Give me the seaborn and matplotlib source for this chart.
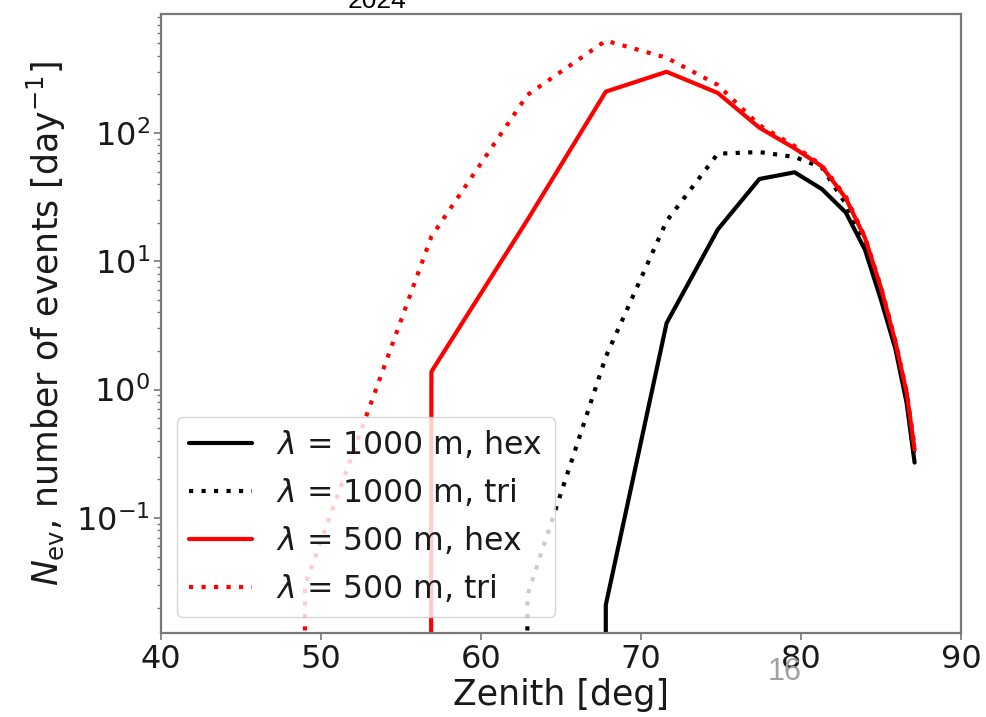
import numpy as np
import pandas as pd
import matplotlib
matplotlib.use("Agg")
import matplotlib.pyplot as plt
import seaborn as sns

# Zenith grid of the simulated bins [deg]
zenith = [37.8, 49.0, 56.9, 62.9, 67.8, 71.6, 74.8, 77.4, 79.6, 81.3, 82.8, 84.0, 85.0, 85.9, 86.6, 87.1]

# Expected number of events per day for each array layout
n_1000_hex = [0, 0, 0, 0, 0.021, 3.3, 17.7, 43.8, 49.4, 36.6, 24.0, 12.3, 5.0, 2.08, 0.79, 0.27]
n_1000_tri = [0, 0, 0, 0.025, 1.8, 20.6, 69.0, 71.0, 65.0, 54.0, 28.0, 13.0, 5.4, 2.2, 0.85, 0.29]
n_500_hex = [0, 0, 1.38, 21.0, 210.0, 300.0, 205.0, 110.0, 76.0, 55.0, 31.0, 15.2, 6.2, 2.35, 0.95, 0.34]
n_500_tri = [0, 0.030, 15.6, 198.0, 524.0, 386.0, 237.0, 115.0, 79.0, 56.0, 32.0, 15.5, 6.3, 2.4, 0.97, 0.36]

labels = [r"$\lambda$ = 1000 m, hex", r"$\lambda$ = 1000 m, tri",
          r"$\lambda$ = 500 m, hex", r"$\lambda$ = 500 m, tri"]
series = [n_1000_hex, n_1000_tri, n_500_hex, n_500_tri]
colors = ["black", "black", "red", "red"]
styles = ["-", ":", "-", ":"]

sns.set_theme(style="ticks")
plt.rcParams["font.family"] = ["DejaVu Sans"]
plt.rcParams["mathtext.fontset"] = "dejavusans"

fig = plt.figure(figsize=(9.86, 7.17), dpi=100)
ax = fig.add_axes([161 / 986, 84 / 717, 800 / 986, 619 / 717])
ax.set_yscale("log")

for vals, lab, col, ls in zip(series, labels, colors, styles):
    df = pd.DataFrame({"zenith": zenith, "nev": vals})
    line_kw = dict(color=col, lw=3, label=lab)
    if ls == ":":
        line_kw["dashes"] = False
        line_kw["linestyle"] = (0, (1, 2.0))
    sns.lineplot(data=df, x="zenith", y="nev", ax=ax, estimator=None, sort=False, **line_kw)

ax.set_xlim(40, 90)
ax.set_ylim(0.01268, 846)
ax.set_xticks([40, 50, 60, 70, 80, 90])

ax.set_xlabel("Zenith [deg]", fontsize=25, color="#1a1a1a", labelpad=2)
ax.set_ylabel(r"$N_{\rm ev}$, number of events [day$^{-1}$]", fontsize=25, color="#1a1a1a", labelpad=6)

for sp in ax.spines.values():
    sp.set_visible(True)
    sp.set_color("#777777")
    sp.set_linewidth(1.6)
ax.tick_params(axis="both", which="major", labelsize=23, colors="#777777", labelcolor="#1a1a1a",
               length=5, width=1.2, direction="out", pad=3)
ax.tick_params(axis="y", which="minor", colors="#777777", length=3, width=1.0, direction="out")
ax.tick_params(axis="x", which="minor", bottom=False)

leg = ax.legend(loc="lower left", fontsize=22.7, frameon=True, framealpha=0.8, fancybox=True,
                labelspacing=0.5, handletextpad=0.75)
leg.get_frame().set_edgecolor("#cccccc")
for t in leg.get_texts():
    t.set_color("#1a1a1a")

fig.text(377 / 986, 1 - 8 / 717, "2024", ha="center", va="baseline", fontsize=19,
         family="Liberation Sans", color="black")
fig.text(785 / 986, 1 - 672 / 717, "16", ha="center", va="center", fontsize=22,
         family="Liberation Sans", color="#a0a0a0")

fig.savefig("out.png", dpi=100)
